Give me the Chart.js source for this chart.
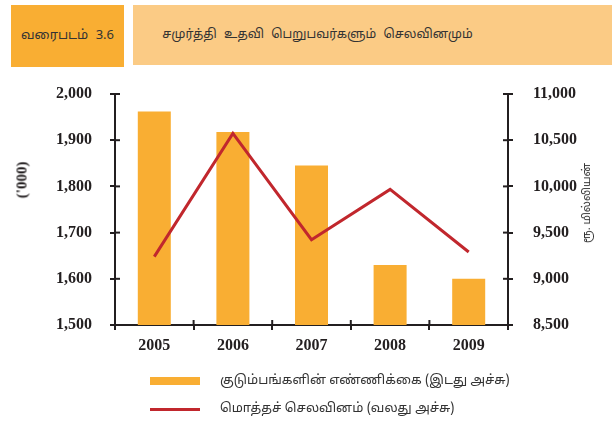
<!DOCTYPE html>
<html>
<head>
<meta charset="utf-8">
<script src="https://cdn.jsdelivr.net/npm/chart.js@4"></script>
<style>
  html, body { margin: 0; padding: 0; background: #ffffff; }
  body { width: 612px; height: 431px; position: relative; overflow: hidden;
         font-family: "Noto Sans Tamil", "Lohit Tamil", "Noto Sans", "DejaVu Sans", sans-serif; color: #231f20; }
  .box { position: absolute; display: flex; align-items: center; justify-content: center; color: #333; }
  #boxA { left: 11px; top: 5px; width: 113px; height: 62px; background: #f9ae33; font-size: 13px; word-spacing: 4px; }
  #boxB { left: 133px; top: 5px; width: 479px; height: 60px; background: #fbcb85; font-size: 12.5px; word-spacing: 4px; padding-right: 110px; box-sizing: border-box; }
  .rot { position: absolute; transform: translate(-50%, -50%) rotate(-90deg); white-space: nowrap; }
  #ytitle { left: 22px; top: 180px; font-family: "Liberation Serif", serif; font-weight: bold; font-size: 15px; }
  #y1title { left: 587px; top: 203px; font-size: 11px; color: #333; }
  #chart { position: absolute; left: 0; top: 0; }
  .leg { position: absolute; left: 150px; font-size: 13px; white-space: nowrap; color: #333; }
  .leg .sw { position: absolute; left: 0; width: 50px; }
  .leg .tx { position: absolute; left: 70px; transform: translateY(-50%); }
</style>
</head>
<body>
<div class="box" id="boxA">வரைபடம் 3.6</div>
<div class="box" id="boxB">சமுர்த்தி உதவி பெறுபவர்களும் செலவினமும்</div>
<canvas id="chart" width="612" height="431"></canvas>
<div class="rot" id="ytitle">('000)</div>
<div class="rot" id="y1title">ரூ. மில்லியன்</div>
<div class="leg" style="top:381px;"><div class="sw" style="top:-4px;height:8px;background:#f9ae33;"></div><div class="tx">குடும்பங்களின் எண்ணிக்கை (இடது அச்சு)</div></div>
<div class="leg" style="top:409px;"><div class="sw" style="top:-1.5px;height:3px;background:#c1272d;"></div><div class="tx">மொத்தச் செலவினம் (வலது அச்சு)</div></div>
<script>
const years = ["2005", "2006", "2007", "2008", "2009"];
const families = [1962, 1918, 1845, 1630, 1600];
const expenditure = [9240, 10573, 9423, 9967, 9290];
const leftTicks = [1500, 1600, 1700, 1800, 1900, 2000];
const rightTicks = [8500, 9000, 9500, 10000, 10500, 11000];
const familiesLabel = "குடும்பங்களின் எண்ணிக்கை (இடது அச்சு)";
const expenditureLabel = "மொத்தச் செலவினம் (வலது அச்சு)";

const AX = '#231f20';
const tickFont = { family: "'Liberation Serif', 'Times New Roman', serif", size: 16, weight: 'bold' };

const innerTicks = {
  id: 'innerTicks',
  afterDraw(chart) {
    const ctx = chart.ctx, a = chart.chartArea;
    ctx.save();
    ctx.strokeStyle = AX; ctx.lineWidth = 2;
    const y = chart.scales.y, y1 = chart.scales.y1, x = chart.scales.x;
    leftTicks.forEach(v => { const p = y.getPixelForValue(v); ctx.beginPath(); ctx.moveTo(a.left, p); ctx.lineTo(a.left + 5, p); ctx.stroke(); });
    rightTicks.forEach(v => { const p = y1.getPixelForValue(v); ctx.beginPath(); ctx.moveTo(a.right - 5, p); ctx.lineTo(a.right, p); ctx.stroke(); });
    for (let i = 0; i <= years.length; i++) {
      const p = x.getPixelForValue(i - 0.5);
      ctx.beginPath(); ctx.moveTo(p, a.bottom - 5); ctx.lineTo(p, a.bottom); ctx.stroke();
    }
    ctx.restore();
  }
};

new Chart(document.getElementById('chart'), {
  data: {
    labels: years,
    datasets: [
      { type: 'line', label: expenditureLabel, data: expenditure, yAxisID: 'y1', borderColor: '#c1272d', borderWidth: 3,
        pointRadius: 0, tension: 0, fill: false, order: 0, borderJoinStyle: 'miter' },
      { type: 'bar', label: familiesLabel, data: families, yAxisID: 'y', backgroundColor: '#f9ae33',
        barPercentage: 0.42, categoryPercentage: 1, order: 1 }
    ]
  },
  options: {
    responsive: false, devicePixelRatio: 1, animation: false,
    layout: { padding: { top: 94, left: 0, right: 0, bottom: 0 } },
    plugins: { legend: { display: false }, tooltip: { enabled: false } },
    scales: {
      x: {
        offset: true,
        grid: { offset: true, drawOnChartArea: false, color: AX, lineWidth: 2, tickLength: 5 },
        border: { color: AX, width: 2 },
        ticks: { color: AX, font: tickFont, padding: 6 },
        afterFit(s) { s.height = 106; }
      },
      y: {
        position: 'left', min: 1500, max: 2000,
        afterBuildTicks(s) { s.ticks = leftTicks.map(v => ({ value: v })); },
        grid: { drawOnChartArea: false, color: AX, lineWidth: 2, tickLength: 5 },
        border: { color: AX, width: 2 },
        ticks: { color: AX, font: tickFont, padding: 18, callback: v => v.toLocaleString('en-US') },
        afterFit(s) { s.width = 115; }
      },
      y1: {
        position: 'right', min: 8500, max: 11000,
        afterBuildTicks(s) { s.ticks = rightTicks.map(v => ({ value: v })); },
        grid: { drawOnChartArea: false, color: AX, lineWidth: 2, tickLength: 5 },
        border: { color: AX, width: 2 },
        ticks: { color: AX, font: tickFont, padding: 20, callback: v => v.toLocaleString('en-US') },
        afterFit(s) { s.width = 104; }
      }
    }
  },
  plugins: [innerTicks]
});
</script>
</body>
</html>
